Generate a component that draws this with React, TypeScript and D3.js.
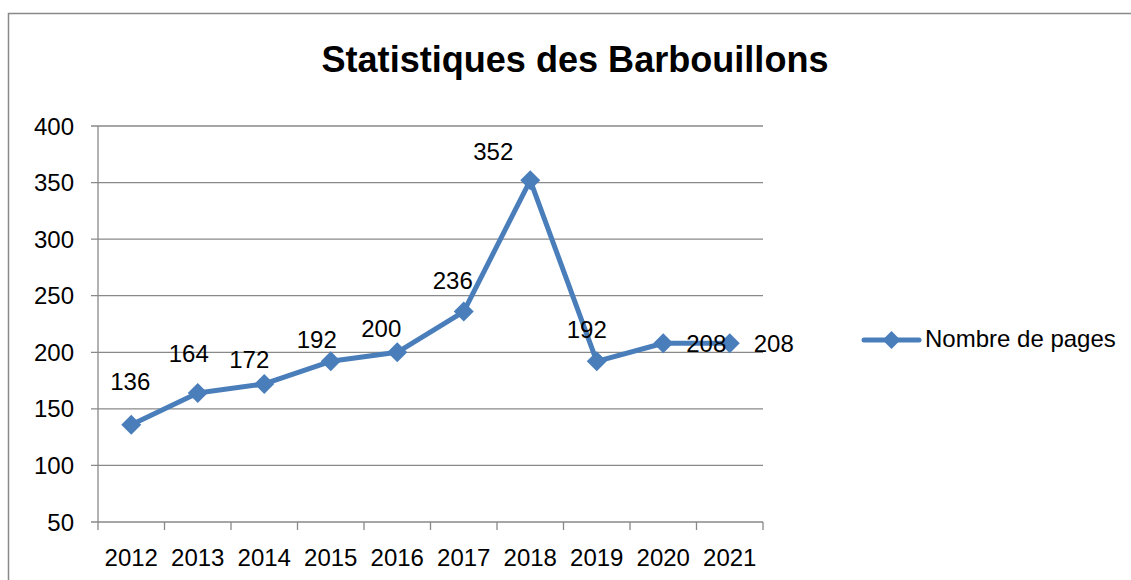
import React, { useEffect, useRef } from "react";
import * as d3 from "d3";

const years = ["2012", "2013", "2014", "2015", "2016", "2017", "2018", "2019", "2020", "2021"];
const pages = [136, 164, 172, 192, 200, 236, 352, 192, 208, 208];
const yTicks = [50, 100, 150, 200, 250, 300, 350, 400];
// label offsets from each point [dx, dy of baseline], as placed in the source chart
const labelOffsets = [
  [-1, -35], [-9, -31], [-15, -16], [-14, -13], [-16, -15],
  [-11, -23], [-37, -20], [-10, -23], [43, 9], [44, 9],
];
const seriesName = "Nombre de pages";
const title = "Statistiques des Barbouillons";

const App = () => {
  const ref = useRef<SVGSVGElement>(null);

  useEffect(() => {
    const width = 1131;
    const height = 580;
    const left = 98, right = 763, top = 126, bottom = 522;
    const blue = "#4a7ebb";
    const grey = "#898989";
    const font = "'Liberation Sans', Arial, sans-serif";
    const fs = 24;

    const svg = d3.select(ref.current);
    svg.selectAll("*").remove();
    svg.attr("width", width).attr("height", height);

    svg.append("rect").attr("width", width).attr("height", height).attr("fill", "#fff");

    // outer frame
    svg
      .append("rect")
      .attr("x", 8.5)
      .attr("y", 13.5)
      .attr("width", width + 20)
      .attr("height", height + 20)
      .attr("fill", "none")
      .attr("stroke", grey)
      .attr("stroke-width", 1.5);

    svg
      .append("text")
      .attr("x", 575)
      .attr("y", 72)
      .attr("text-anchor", "middle")
      .attr("font-family", font)
      .attr("font-weight", "bold")
      .attr("font-size", 37)
      .attr("textLength", 507)
      .attr("lengthAdjust", "spacingAndGlyphs")
      .attr("fill", "#000")
      .text(title);

    const x = d3.scaleBand().domain(years).range([left, right]).padding(0);
    const y = d3.scaleLinear().domain([50, 400]).range([bottom, top]);

    // gridlines + y ticks
    const grid = svg.append("g");
    yTicks.forEach((t) => {
      grid
        .append("line")
        .attr("x1", left - 7)
        .attr("x2", right)
        .attr("y1", y(t))
        .attr("y2", y(t))
        .attr("stroke", grey)
        .attr("stroke-width", 1.3);
      grid
        .append("text")
        .attr("x", 74)
        .attr("y", y(t))
        .attr("dy", "0.36em")
        .attr("text-anchor", "end")
        .attr("font-family", font)
        .attr("font-size", fs)
        .attr("fill", "#000")
        .text(t);
    });

    // y axis line
    svg
      .append("line")
      .attr("x1", left)
      .attr("x2", left)
      .attr("y1", top)
      .attr("y2", bottom)
      .attr("stroke", grey)
      .attr("stroke-width", 1.3);

    // x ticks at band edges
    const edges = years.map((d) => x(d) as number).concat([right]);
    edges.forEach((e) => {
      svg
        .append("line")
        .attr("x1", e)
        .attr("x2", e)
        .attr("y1", bottom)
        .attr("y2", bottom + 8)
        .attr("stroke", grey)
        .attr("stroke-width", 1.3);
    });

    years.forEach((d) => {
      svg
        .append("text")
        .attr("x", (x(d) as number) + x.bandwidth() / 2)
        .attr("y", 566)
        .attr("text-anchor", "middle")
        .attr("font-family", font)
        .attr("font-size", fs)
        .attr("fill", "#000")
        .text(d);
    });

    const cx = (i: number) => (x(years[i]) as number) + x.bandwidth() / 2;

    const line = d3
      .line<number>()
      .x((_, i) => cx(i))
      .y((d) => y(d));

    svg
      .append("path")
      .datum(pages)
      .attr("d", line)
      .attr("fill", "none")
      .attr("stroke", blue)
      .attr("stroke-width", 5)
      .attr("stroke-linejoin", "round");

    const diamond = (px: number, py: number, r: number) =>
      `M${px},${py - r}L${px + r},${py}L${px},${py + r}L${px - r},${py}Z`;

    svg
      .append("g")
      .selectAll("path")
      .data(pages)
      .enter()
      .append("path")
      .attr("d", (d, i) => diamond(cx(i), y(d), 10))
      .attr("fill", blue);

    svg
      .append("g")
      .selectAll("text")
      .data(pages)
      .enter()
      .append("text")
      .attr("x", (d, i) => cx(i) + labelOffsets[i][0])
      .attr("y", (d, i) => y(d) + labelOffsets[i][1])
      .attr("text-anchor", "middle")
      .attr("font-family", font)
      .attr("font-size", fs)
      .attr("fill", "#000")
      .text((d) => d);

    // legend
    const lg = svg.append("g");
    lg.append("line")
      .attr("x1", 864)
      .attr("x2", 919)
      .attr("y1", 340)
      .attr("y2", 340)
      .attr("stroke", blue)
      .attr("stroke-width", 5)
      .attr("stroke-linecap", "round");
    lg.append("path").attr("d", diamond(891.5, 340, 9)).attr("fill", blue);
    lg.append("text")
      .attr("x", 925)
      .attr("y", 347)
      .attr("font-family", font)
      .attr("font-size", fs)
      .attr("fill", "#000")
      .text(seriesName);
  }, []);

  return (
    <div style={{ position: "absolute", left: 0, top: 0 }}>
      <svg ref={ref} style={{ display: "block" }}></svg>
    </div>
  );
};

export default App;
